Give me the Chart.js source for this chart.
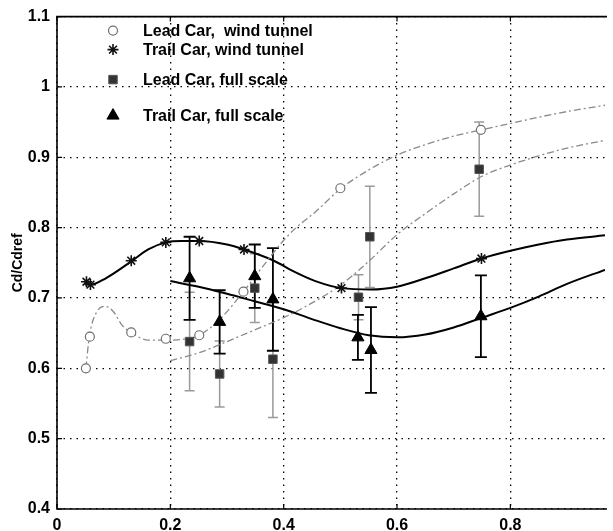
<!DOCTYPE html>
<html>
<head>
<meta charset="utf-8">
<script src="https://cdn.jsdelivr.net/npm/chart.js@4.4.1/dist/chart.umd.min.js"></script>
<style>
  html, body { margin: 0; padding: 0; background: #fff; }
  canvas { display: block; }
</style>
</head>
<body>
<canvas id="chart" width="613" height="531"></canvas>
<script>
// measured markers
const leadTunnelX = [0.051, 0.058, 0.131, 0.192, 0.251, 0.329, 0.500, 0.748];
const leadTunnelY = [0.600, 0.645, 0.651, 0.642, 0.647, 0.709, 0.856, 0.939];
const trailTunnelX = [0.052, 0.059, 0.131, 0.192, 0.251, 0.330, 0.502, 0.749];
const trailTunnelY = [0.723, 0.719, 0.753, 0.779, 0.781, 0.769, 0.714, 0.756];
const leadFullX = [0.234, 0.287, 0.349, 0.381, 0.532, 0.552, 0.745];
const leadFullY = [0.638, 0.592, 0.714, 0.613, 0.701, 0.787, 0.883];
const leadFullErr = [0.070, 0.047, 0.049, 0.083, 0.032, 0.072, 0.067];
const trailFullX = [0.234, 0.287, 0.349, 0.381, 0.531, 0.554, 0.748];
const trailFullY = [0.728, 0.666, 0.731, 0.698, 0.644, 0.626, 0.674];
const trailFullErr = [0.059, 0.045, 0.045, 0.073, 0.032, 0.061, 0.058];

// fitted curves
const leadTunnelCurveX = [0.051, 0.057, 0.07, 0.086, 0.10, 0.115, 0.131, 0.161, 0.192, 0.22, 0.251, 0.29, 0.329, 0.37, 0.40, 0.422, 0.457, 0.50, 0.55, 0.60, 0.65, 0.70, 0.748, 0.80, 0.85, 0.90, 0.967];
const leadTunnelCurveY = [0.600, 0.645, 0.680, 0.688, 0.680, 0.661, 0.651, 0.640, 0.640, 0.641, 0.647, 0.672, 0.709, 0.752, 0.782, 0.800, 0.823, 0.855, 0.882, 0.903, 0.918, 0.930, 0.939, 0.948, 0.957, 0.965, 0.974];
const trailTunnelCurveX = [0.052, 0.059, 0.086, 0.131, 0.161, 0.192, 0.22, 0.251, 0.30, 0.330, 0.38, 0.422, 0.456, 0.502, 0.555, 0.60, 0.65, 0.70, 0.749, 0.80, 0.85, 0.90, 0.967];
const trailTunnelCurveY = [0.723, 0.719, 0.728, 0.752, 0.769, 0.779, 0.781, 0.781, 0.776, 0.769, 0.754, 0.736, 0.724, 0.714, 0.712, 0.716, 0.728, 0.742, 0.756, 0.767, 0.776, 0.783, 0.789];
const leadFullCurveX = [0.20, 0.25, 0.30, 0.35, 0.40, 0.45, 0.50, 0.55, 0.60, 0.65, 0.70, 0.75, 0.80, 0.85, 0.90, 0.967];
const leadFullCurveY = [0.611, 0.622, 0.638, 0.655, 0.672, 0.693, 0.718, 0.752, 0.790, 0.820, 0.848, 0.873, 0.889, 0.902, 0.913, 0.924];
const trailFullCurveX = [0.20, 0.25, 0.30, 0.35, 0.40, 0.45, 0.50, 0.55, 0.60, 0.65, 0.70, 0.75, 0.80, 0.85, 0.90, 0.967];
const trailFullCurveY = [0.724, 0.716, 0.706, 0.695, 0.684, 0.670, 0.657, 0.647, 0.644, 0.648, 0.658, 0.672, 0.686, 0.702, 0.720, 0.740];

const xTicks = [0, 0.2, 0.4, 0.6, 0.8];
const yTicks = [0.4, 0.5, 0.6, 0.7, 0.8, 0.9, 1.0, 1.1];

const legendLabels = ['Lead Car,  wind tunnel', 'Trail Car, wind tunnel', 'Lead Car, full scale', 'Trail Car, full scale'];

const pts = (xs, ys) => xs.map((x, i) => ({ x, y: ys[i] }));

const FONT = '"Liberation Sans", Arial, sans-serif';
const GRAY = '#8a8a8a';

const markerStyles = [
  { pointStyle: 'circle', radius: 4.5, borderWidth: 1.2, fill: '#fff', stroke: '#707070' },
  { pointStyle: 'star', radius: 5.5, borderWidth: 1.6, fill: '#111', stroke: '#111' },
  { pointStyle: 'rect', radius: 6, borderWidth: 1, fill: '#333', stroke: '#555' },
  { pointStyle: 'triangle', radius: 7, borderWidth: 1, fill: '#000', stroke: '#000' },
];

const curve = (xs, ys, color, width, dash) => ({
  type: 'line',
  data: pts(xs, ys),
  borderColor: color,
  borderWidth: width,
  borderDash: dash,
  pointRadius: 0,
  tension: 0.4,
  cubicInterpolationMode: 'monotone',
  fill: false,
  order: 10,
});

const markers = (xs, ys, m) => ({
  type: 'scatter',
  data: pts(xs, ys),
  pointStyle: m.pointStyle,
  pointRadius: m.radius,
  pointBorderWidth: m.borderWidth,
  pointBackgroundColor: m.fill,
  pointBorderColor: m.stroke,
  showLine: false,
  order: 1,
});

// vertical error bars, behind the markers
const errorBars = {
  id: 'errorBars',
  beforeDatasetsDraw(chart) {
    const { ctx, scales: { x, y } } = chart;
    const sets = [
      { xs: leadFullX, ys: leadFullY, err: leadFullErr, color: '#9a9a9a', w: 1.5, cap: 5 },
      { xs: trailFullX, ys: trailFullY, err: trailFullErr, color: '#000', w: 1.8, cap: 6 },
    ];
    ctx.save();
    sets.forEach(s => {
      ctx.strokeStyle = s.color;
      ctx.lineWidth = s.w;
      s.xs.forEach((xv, i) => {
        const px = x.getPixelForValue(xv);
        const top = y.getPixelForValue(s.ys[i] + s.err[i]);
        const bot = y.getPixelForValue(s.ys[i] - s.err[i]);
        ctx.beginPath();
        ctx.moveTo(px, top); ctx.lineTo(px, bot);
        ctx.moveTo(px - s.cap, top); ctx.lineTo(px + s.cap, top);
        ctx.moveTo(px - s.cap, bot); ctx.lineTo(px + s.cap, bot);
        ctx.stroke();
      });
    });
    ctx.restore();
  },
};

// matlab-like box with inward ticks, and the legend inside the plot
const frameAndLegend = {
  id: 'frameAndLegend',
  afterDraw(chart) {
    const { ctx, chartArea: a, scales: { x, y } } = chart;
    ctx.save();
    ctx.strokeStyle = '#000';
    ctx.lineWidth = 1.6;
    ctx.beginPath();
    ctx.moveTo(a.right + 2, a.top); ctx.lineTo(a.left, a.top);
    ctx.lineTo(a.left, a.bottom); ctx.lineTo(a.right + 2, a.bottom);
    ctx.stroke();
    ctx.lineWidth = 1.2;
    ctx.beginPath();
    xTicks.forEach(v => {
      const px = x.getPixelForValue(v);
      ctx.moveTo(px, a.bottom); ctx.lineTo(px, a.bottom - 5);
      ctx.moveTo(px, a.top); ctx.lineTo(px, a.top + 5);
    });
    yTicks.forEach(v => {
      const py = y.getPixelForValue(v);
      ctx.moveTo(a.left, py); ctx.lineTo(a.left + 5, py);
    });
    ctx.stroke();

    const rows = [14, 33, 63, 99];
    ctx.font = 'bold 16px ' + FONT;
    ctx.textBaseline = 'middle';
    legendLabels.forEach((label, i) => {
      const m = markerStyles[i];
      const yy = a.top + rows[i];
      ctx.fillStyle = m.fill;
      ctx.strokeStyle = m.stroke;
      ctx.lineWidth = m.borderWidth;
      Chart.helpers.drawPoint(ctx, { pointStyle: m.pointStyle, radius: m.radius, rotation: 0, borderWidth: m.borderWidth }, a.left + 56, yy);
      ctx.fillStyle = '#000';
      ctx.fillText(label, a.left + 86, yy + 1);
    });
    ctx.restore();
  },
};

const gridOpts = { color: '#000', lineWidth: 1.3, drawTicks: false };
const borderOpts = { display: false, dash: [1.5, 5] };

new Chart(document.getElementById('chart'), {
  data: {
    datasets: [
      markers(leadTunnelX, leadTunnelY, markerStyles[0]),
      markers(trailTunnelX, trailTunnelY, markerStyles[1]),
      markers(leadFullX, leadFullY, markerStyles[2]),
      markers(trailFullX, trailFullY, markerStyles[3]),
      curve(leadTunnelCurveX, leadTunnelCurveY, GRAY, 1.3, [7, 3, 2, 3]),
      curve(trailTunnelCurveX, trailTunnelCurveY, '#000', 2, []),
      curve(leadFullCurveX, leadFullCurveY, GRAY, 1.3, [7, 3, 2, 3]),
      curve(trailFullCurveX, trailFullCurveY, '#000', 2, []),
    ],
  },
  options: {
    responsive: false,
    animation: false,
    events: [],
    layout: { padding: { top: 14, right: 0, left: 0, bottom: 0 } },
    plugins: { legend: { display: false }, tooltip: { enabled: false } },
    scales: {
      x: {
        type: 'linear',
        min: 0,
        max: 0.967,
        afterFit: s => { s.height = 22; },
        afterBuildTicks: s => { s.ticks = xTicks.map(v => ({ value: v })); },
        border: borderOpts,
        grid: gridOpts,
        ticks: {
          padding: 7,
          color: '#000',
          font: { family: FONT, size: 16, weight: 'bold' },
          callback: v => String(Number(v.toFixed(1))),
        },
      },
      y: {
        type: 'linear',
        min: 0.4,
        max: 1.1,
        afterFit: s => { s.width = 57; },
        afterBuildTicks: s => { s.ticks = yTicks.map(v => ({ value: v })); },
        border: borderOpts,
        grid: gridOpts,
        ticks: {
          padding: 7,
          color: '#000',
          font: { family: FONT, size: 16, weight: 'bold' },
          callback: v => String(Number(v.toFixed(1))),
        },
        title: {
          display: true,
          text: 'Cd/Cdref',
          color: '#000',
          padding: { top: 10, bottom: 0 },
          font: { family: FONT, size: 14, weight: 'bold' },
        },
      },
    },
  },
  plugins: [errorBars, frameAndLegend],
});
</script>
</body>
</html>
